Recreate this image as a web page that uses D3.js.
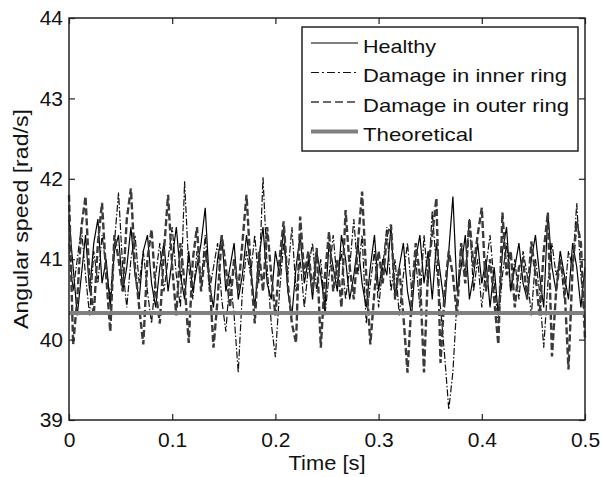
<!DOCTYPE html>
<html>
<head>
<meta charset="utf-8">
<script src="https://cdn.jsdelivr.net/npm/d3@7"></script>
<style>
  body { margin: 0; background: #fff; }
  text { font-family: "Liberation Sans", Arial, sans-serif; fill: #111; }
</style>
</head>
<body>
<div id="canvas"></div>
<script>
// Data: 126 samples, dt = 0.004 s
var dt = 0.004;

var healthy = [
  41.5, 40.9, 40.3, 40.8, 41.3, 40.6, 41.2, 41.5, 40.7, 41.0,
  40.4, 41.1, 41.3, 40.6, 40.9, 41.4, 40.8, 40.5, 41.1, 41.3,
  40.7, 40.4, 40.9, 41.2, 40.6, 41.0, 41.4, 40.8, 40.5, 41.1,
  40.6, 40.9, 41.2, 41.64, 40.7, 40.4, 41.0, 41.3, 40.6, 40.9,
  41.2, 40.5, 40.8, 41.3, 40.9, 40.4, 41.0, 41.4, 40.7, 40.5,
  41.1, 40.8, 41.4, 40.6, 40.3, 40.9, 41.3, 40.7, 41.0, 40.5,
  41.1, 40.8, 40.4, 41.2, 40.9, 40.6, 41.3, 41.0, 40.5, 40.8,
  41.2, 40.7, 40.4, 40.9, 41.3, 40.6, 41.0, 40.8, 41.4, 40.5,
  40.9, 41.2, 40.6, 40.3, 41.0, 41.3, 40.7, 41.1, 40.5, 41.2,
  40.8, 40.4, 41.1, 41.78, 40.6, 40.9, 41.3, 40.5, 40.8, 41.2,
  40.7, 41.0, 40.4, 40.9, 40.3, 41.1, 41.4, 40.6, 40.9, 41.2,
  40.7, 40.5, 41.0, 41.3, 40.8, 40.4, 41.58, 40.9, 40.6, 41.1,
  40.8, 40.5, 41.2, 40.9, 40.4, 40.9
];

var innerRing = [
  41.2, 40.6, 41.0, 41.4, 40.8, 40.3, 41.1, 40.7, 41.3, 40.9,
  40.5, 41.2, 41.83, 40.9, 40.4, 41.0, 41.3, 40.7, 41.1, 40.6,
  40.2, 40.8, 41.2, 40.6, 41.0, 41.4, 40.8, 40.4, 41.97, 40.9,
  40.5, 41.1, 40.7, 41.3, 40.6, 40.9, 41.2, 40.5, 40.1, 40.8,
  40.3, 39.59, 40.6, 41.1, 40.8, 41.3, 40.7, 42.02, 40.9, 40.2,
  39.78, 40.6, 41.2, 40.8, 41.4, 40.6, 41.0, 40.4, 40.9, 41.2,
  40.6, 41.0, 40.3, 40.8, 41.3, 40.7, 41.1, 40.5, 40.9, 41.5,
  40.8, 41.3, 40.2, 40.7, 41.1, 40.4, 40.9, 41.4, 40.6, 41.0,
  40.3, 40.8, 41.2, 40.6, 41.0, 40.4, 41.3, 40.7, 41.6, 40.9,
  40.4, 39.8, 39.13, 39.6, 40.5, 41.2, 40.8, 41.5, 40.6, 41.0,
  40.4, 40.9, 41.3, 40.7, 40.2, 40.8, 41.2, 40.6, 41.0, 40.5,
  41.1, 40.8, 40.3, 41.0, 40.6, 39.9, 40.7, 41.2, 40.8, 41.0,
  40.5, 41.1, 40.9, 41.7, 40.8, 40.2
];

var outerRing = [
  41.8, 39.94, 40.5, 41.4, 41.78, 40.7, 40.3, 41.2, 41.7, 40.8,
  40.1, 41.3, 41.0, 40.6, 41.5, 41.88, 40.9, 40.4, 39.94, 41.0,
  41.37, 40.6, 40.2, 41.1, 41.8, 40.9, 40.3, 41.2, 40.7, 39.96,
  41.0, 41.4, 40.6, 41.1, 40.8, 39.9, 40.5, 41.3, 40.9, 40.4,
  41.0, 40.6, 41.2, 41.8, 40.9, 40.2, 41.1, 40.6, 41.4, 40.8,
  40.3, 41.0, 41.47, 40.7, 40.2, 39.96, 41.53, 40.8, 41.1, 40.6,
  41.14, 39.9, 40.8, 41.34, 40.6, 41.0, 40.4, 41.61, 40.9, 40.5,
  41.2, 41.84, 40.8, 39.94, 40.6, 41.1, 40.7, 41.3, 41.43, 40.5,
  40.9, 40.3, 39.59, 40.5, 41.2, 40.8, 39.59, 40.9, 41.3, 41.76,
  39.71, 40.6, 41.1, 40.8, 40.3, 41.2, 40.7, 41.5, 40.9, 41.3,
  41.64, 40.6, 41.0, 40.5, 39.94, 41.58, 40.8, 41.1, 40.4, 40.9,
  41.0, 40.5, 41.22, 40.8, 40.3, 41.1, 41.58, 39.79, 40.6, 41.0,
  40.7, 39.63, 40.9, 41.47, 41.2, 40.0
];

var theoretical = 40.33;

var xTicks = [0, 0.1, 0.2, 0.3, 0.4, 0.5];
var yTicks = [39, 40, 41, 42, 43, 44];
var legendNames = ["Healthy", "Damage in inner ring", "Damage in outer ring", "Theoretical"];

var w = 602, h = 477;
var margin = {top: 18, right: 17, bottom: 57, left: 69};

var svg = d3.select("#canvas")
    .append("svg")
    .attr("width", w)
    .attr("height", h);

var x_scale = d3.scaleLinear()
    .domain([0, 0.5])
    .range([margin.left, w - margin.right]);

var y_scale = d3.scaleLinear()
    .domain([39, 44])
    .range([h - margin.bottom, margin.top]);

// line styles for each series
var styles = [
    {stroke: "#000", width: 1.2, dash: null},
    {stroke: "#111", width: 1.2, dash: "7,2,1.5,2"},
    {stroke: "#3a3a3a", width: 2.4, dash: "7,3"},
    {stroke: "#808080", width: 4, dash: null}
];

var line = d3.line()
    .x((d, i) => x_scale(i * dt))
    .y(d => y_scale(d));

var plot = svg.append("g");
[healthy, innerRing, outerRing].forEach((s, k) => {
    plot.append("path")
        .datum(s)
        .attr("fill", "none")
        .attr("stroke", styles[k].stroke)
        .attr("stroke-width", styles[k].width)
        .attr("stroke-dasharray", styles[k].dash)
        .attr("d", line);
});

// theoretical speed
plot.append("line")
    .attr("x1", x_scale(0))
    .attr("x2", x_scale(0.5))
    .attr("y1", y_scale(theoretical))
    .attr("y2", y_scale(theoretical))
    .attr("stroke", styles[3].stroke)
    .attr("stroke-width", styles[3].width);

// axes, MATLAB style box with inward ticks
function styleAxis(g) {
    g.select(".domain").remove();
    g.selectAll(".tick line").attr("stroke", "#222").attr("stroke-width", 1.2);
    g.selectAll(".tick text").style("font-size", "21px").attr("fill", "#111");
}

svg.append("g")
    .attr("transform", `translate(0,${y_scale(39)})`)
    .call(d3.axisBottom(x_scale).tickValues(xTicks).tickFormat(d3.format("")).tickSizeInner(-6).tickSizeOuter(0).tickPadding(12))
    .call(styleAxis);

svg.append("g")
    .attr("transform", `translate(0,${y_scale(44)})`)
    .call(d3.axisTop(x_scale).tickValues(xTicks).tickFormat("").tickSizeInner(-6).tickSizeOuter(0))
    .call(styleAxis);

svg.append("g")
    .attr("transform", `translate(${x_scale(0)},0)`)
    .call(d3.axisLeft(y_scale).tickValues(yTicks).tickFormat(d3.format("d")).tickSizeInner(-6).tickSizeOuter(0).tickPadding(6))
    .call(styleAxis);

svg.append("g")
    .attr("transform", `translate(${x_scale(0.5)},0)`)
    .call(d3.axisRight(y_scale).tickValues(yTicks).tickFormat("").tickSizeInner(-6).tickSizeOuter(0))
    .call(styleAxis);

// the box
svg.append("rect")
    .attr("x", x_scale(0))
    .attr("y", y_scale(44))
    .attr("width", x_scale(0.5) - x_scale(0))
    .attr("height", y_scale(39) - y_scale(44))
    .attr("fill", "none")
    .attr("stroke", "#222")
    .attr("stroke-width", 1.5);

// axis labels
svg.append("text")
    .attr("text-anchor", "middle")
    .attr("x", (x_scale(0) + x_scale(0.5)) / 2)
    .attr("y", 470)
    .attr("textLength", 77)
    .attr("lengthAdjust", "spacingAndGlyphs")
    .style("font-size", "21px")
    .text("Time [s]");

svg.append("text")
    .attr("text-anchor", "middle")
    .attr("transform", "rotate(-90)")
    .attr("x", -(y_scale(39) + y_scale(44)) / 2)
    .attr("y", 28)
    .attr("textLength", 220)
    .attr("lengthAdjust", "spacingAndGlyphs")
    .style("font-size", "21px")
    .text("Angular speed [rad/s]");

// legend
var legend = svg.append("g").attr("transform", "translate(302,27)");
legend.append("rect")
    .attr("width", 276)
    .attr("height", 124)
    .attr("fill", "#fff")
    .attr("stroke", "#222")
    .attr("stroke-width", 1.5);

var legendWidths = [73, 204, 206, 110];
legendNames.forEach((name, k) => {
    var yy = 16 + k * 29.5;
    legend.append("line")
        .attr("x1", 9).attr("x2", 56)
        .attr("y1", yy).attr("y2", yy)
        .attr("stroke", styles[k].stroke)
        .attr("stroke-width", k === 3 ? 4 : (k === 2 ? 1.6 : 1))
        .attr("stroke-dasharray", k === 1 ? "8,3,2,3" : (k === 2 ? "8,4" : null));
    legend.append("text")
        .attr("x", 61)
        .attr("y", yy + 9.5)
        .attr("textLength", legendWidths[k])
        .attr("lengthAdjust", "spacingAndGlyphs")
        .style("font-size", "18.5px")
        .text(name);
});
</script>
</body>
</html>
